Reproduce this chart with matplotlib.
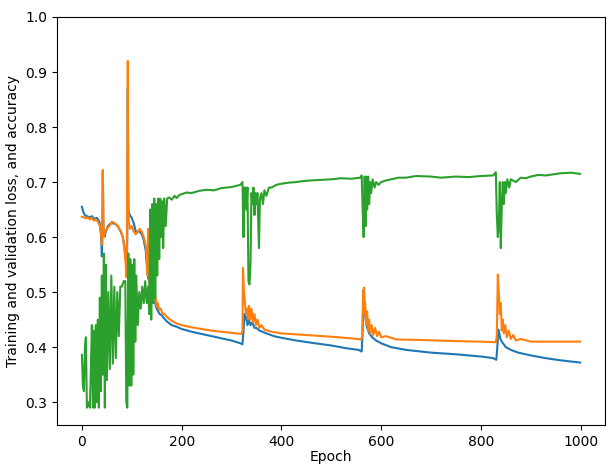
import matplotlib
matplotlib.use("Agg")
import matplotlib.pyplot as plt

# Training loss (blue): epoch keypoints and values
train_epochs = [0, 3, 6, 10, 15, 20, 25, 30, 35, 38, 40, 41, 42, 43, 45, 48, 52, 58, 65, 72, 78, 82, 85, 88, 90, 91, 92, 93, 96, 100, 104, 108, 112, 116, 120, 124, 128, 131, 133, 135, 138, 141, 144, 147, 150, 153, 156, 160, 165, 170, 180, 190, 200, 220, 240, 260, 280, 300, 318, 322, 324, 326, 328, 330, 332, 335, 338, 342, 346, 350, 356, 362, 370, 385, 400, 430, 460, 500, 530, 555, 561, 563, 565, 567, 569, 572, 576, 582, 590, 600, 620, 650, 700, 750, 800, 825, 831, 833, 835, 837, 839, 842, 846, 850, 860, 875, 900, 930, 960, 999]
train_loss = [0.655, 0.645, 0.640, 0.638, 0.636, 0.638, 0.633, 0.635, 0.628, 0.610, 0.565, 0.600, 0.720, 0.620, 0.600, 0.610, 0.620, 0.625, 0.625, 0.620, 0.610, 0.600, 0.585, 0.560, 0.530, 0.600, 0.870, 0.650, 0.640, 0.635, 0.625, 0.610, 0.610, 0.610, 0.605, 0.595, 0.575, 0.540, 0.525, 0.520, 0.505, 0.500, 0.490, 0.480, 0.470, 0.465, 0.460, 0.458, 0.452, 0.447, 0.440, 0.437, 0.433, 0.428, 0.424, 0.420, 0.416, 0.412, 0.407, 0.405, 0.430, 0.460, 0.450, 0.455, 0.440, 0.450, 0.440, 0.445, 0.435, 0.435, 0.430, 0.428, 0.425, 0.420, 0.417, 0.412, 0.408, 0.403, 0.398, 0.395, 0.392, 0.430, 0.505, 0.470, 0.450, 0.435, 0.425, 0.418, 0.412, 0.407, 0.400, 0.395, 0.390, 0.387, 0.383, 0.380, 0.377, 0.400, 0.432, 0.425, 0.415, 0.410, 0.405, 0.400, 0.395, 0.390, 0.385, 0.380, 0.376, 0.372]

# Validation loss (orange)
val_epochs = [0, 4, 8, 12, 16, 20, 24, 28, 32, 36, 39, 40, 41, 42, 43, 44, 46, 50, 55, 60, 66, 72, 78, 82, 85, 88, 89, 90, 91, 92, 93, 94, 96, 100, 104, 108, 112, 116, 120, 124, 128, 130, 132, 133, 134, 136, 138, 140, 142, 144, 146, 148, 150, 152, 155, 158, 162, 166, 170, 180, 190, 200, 220, 240, 260, 280, 300, 320, 322, 323, 325, 327, 329, 331, 333, 335, 337, 340, 343, 346, 349, 352, 356, 360, 366, 372, 380, 400, 450, 500, 540, 560, 562, 564, 566, 567, 568, 570, 572, 574, 576, 578, 581, 584, 588, 592, 596, 600, 610, 630, 680, 750, 800, 830, 832, 834, 836, 838, 840, 842, 844, 846, 849, 852, 856, 860, 865, 870, 880, 900, 950, 999]
val_loss = [0.637, 0.636, 0.634, 0.636, 0.632, 0.635, 0.630, 0.632, 0.628, 0.620, 0.600, 0.586, 0.620, 0.722, 0.640, 0.600, 0.610, 0.615, 0.620, 0.628, 0.625, 0.620, 0.610, 0.600, 0.580, 0.550, 0.527, 0.560, 0.750, 0.920, 0.700, 0.630, 0.615, 0.620, 0.610, 0.605, 0.610, 0.615, 0.610, 0.600, 0.585, 0.560, 0.530, 0.615, 0.550, 0.510, 0.500, 0.510, 0.495, 0.500, 0.485, 0.490, 0.475, 0.480, 0.468, 0.470, 0.460, 0.460, 0.455, 0.448, 0.443, 0.440, 0.436, 0.433, 0.430, 0.428, 0.426, 0.424, 0.430, 0.544, 0.500, 0.480, 0.460, 0.470, 0.450, 0.475, 0.450, 0.470, 0.445, 0.460, 0.440, 0.450, 0.435, 0.440, 0.432, 0.430, 0.428, 0.425, 0.422, 0.419, 0.416, 0.414, 0.420, 0.500, 0.508, 0.460, 0.480, 0.440, 0.465, 0.430, 0.450, 0.425, 0.440, 0.422, 0.435, 0.420, 0.428, 0.418, 0.420, 0.414, 0.413, 0.411, 0.410, 0.409, 0.420, 0.532, 0.500, 0.460, 0.480, 0.430, 0.450, 0.425, 0.440, 0.418, 0.430, 0.415, 0.422, 0.412, 0.415, 0.410, 0.410, 0.410]

# Accuracy (green)
acc_epochs = [0, 2, 4, 6, 8, 10, 13, 16, 18, 20, 22, 24, 26, 28, 30, 32, 34, 36, 38, 40, 42, 44, 46, 48, 50, 53, 56, 59, 62, 65, 68, 71, 74, 77, 80, 84, 87, 89, 91, 93, 95, 97, 99, 101, 103, 105, 107, 109, 112, 115, 118, 121, 124, 127, 130, 133, 135, 137, 139, 141, 143, 145, 147, 149, 151, 153, 155, 157, 159, 161, 163, 165, 168, 171, 175, 180, 186, 190, 196, 200, 210, 220, 235, 250, 265, 280, 300, 318, 322, 324, 326, 328, 330, 332, 334, 336, 338, 340, 342, 344, 346, 348, 350, 352, 355, 357, 360, 363, 366, 370, 375, 380, 390, 400, 415, 430, 445, 460, 480, 500, 520, 540, 558, 561, 563, 565, 566, 567, 569, 570, 572, 574, 576, 578, 580, 583, 587, 590, 595, 600, 610, 620, 635, 650, 670, 700, 720, 750, 775, 800, 825, 830, 832, 834, 836, 838, 840, 842, 844, 846, 848, 850, 853, 857, 860, 870, 880, 890, 900, 915, 930, 945, 960, 980, 999]
accuracy = [0.386, 0.330, 0.320, 0.400, 0.418, 0.290, 0.300, 0.290, 0.360, 0.440, 0.290, 0.430, 0.290, 0.440, 0.300, 0.450, 0.290, 0.490, 0.320, 0.530, 0.350, 0.570, 0.290, 0.550, 0.340, 0.500, 0.360, 0.530, 0.370, 0.510, 0.380, 0.500, 0.420, 0.510, 0.510, 0.520, 0.520, 0.300, 0.290, 0.570, 0.330, 0.560, 0.330, 0.550, 0.350, 0.560, 0.410, 0.530, 0.440, 0.500, 0.470, 0.510, 0.480, 0.520, 0.480, 0.510, 0.460, 0.650, 0.450, 0.660, 0.480, 0.670, 0.490, 0.660, 0.530, 0.670, 0.560, 0.670, 0.600, 0.665, 0.580, 0.670, 0.620, 0.670, 0.672, 0.668, 0.675, 0.671, 0.677, 0.678, 0.681, 0.680, 0.684, 0.686, 0.685, 0.689, 0.691, 0.695, 0.700, 0.600, 0.690, 0.690, 0.650, 0.690, 0.520, 0.514, 0.550, 0.680, 0.660, 0.690, 0.640, 0.680, 0.660, 0.680, 0.580, 0.670, 0.680, 0.660, 0.685, 0.675, 0.690, 0.690, 0.695, 0.697, 0.699, 0.700, 0.702, 0.703, 0.704, 0.705, 0.707, 0.706, 0.708, 0.712, 0.650, 0.600, 0.660, 0.710, 0.620, 0.710, 0.650, 0.710, 0.660, 0.700, 0.680, 0.705, 0.690, 0.700, 0.695, 0.700, 0.703, 0.705, 0.708, 0.708, 0.711, 0.710, 0.708, 0.710, 0.709, 0.711, 0.712, 0.718, 0.640, 0.600, 0.620, 0.700, 0.580, 0.660, 0.700, 0.660, 0.700, 0.680, 0.705, 0.690, 0.705, 0.700, 0.708, 0.707, 0.710, 0.713, 0.712, 0.714, 0.716, 0.717, 0.715]

fig = plt.figure(figsize=(6.12, 4.66), dpi=100)
ax = fig.add_axes([57/612, 41/466, 548/612, 408/466])
ax.plot(train_epochs, train_loss, color="#1f77b4")
ax.plot(val_epochs, val_loss, color="#ff7f0e")
ax.plot(acc_epochs, accuracy, color="#2ca02c")
ax.set_ylim(top=1.0)
ax.set_xlabel("Epoch", labelpad=1)
ax.set_ylabel("Training and validation loss, and accuracy")
fig.savefig("out.png", dpi=100)
